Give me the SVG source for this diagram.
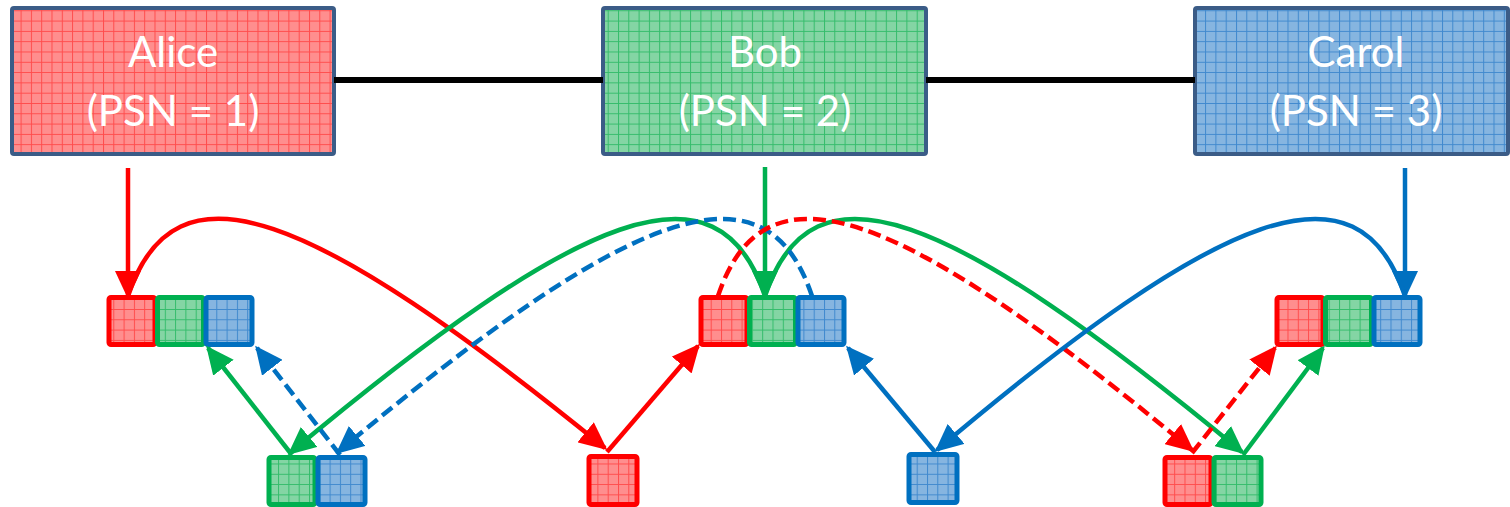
<svg xmlns="http://www.w3.org/2000/svg" width="1510" height="507" viewBox="0 0 1510 507">
<style>
.big{stroke:#3B5C87;stroke-width:4}
.lbl{font-family:Lato,"Liberation Sans",sans-serif;font-size:42px;fill:#FFFFFF;text-anchor:middle}
.sq{stroke-width:5}
.c{fill:none;stroke-width:4.5}
.r{stroke:#FF0000}
.g{stroke:#00B050}
.b{stroke:#0070C0}
.d{stroke-dasharray:13 6}
.k{stroke:#000000;stroke-width:6}
</style>
<defs>
<pattern id="pR" width="10.3" height="10.3" patternUnits="userSpaceOnUse"><rect width="10.3" height="10.3" fill="#FF8E8E"/><path d="M0,0.5H10.3M0.5,0V10.3" stroke="#FF4C4C" stroke-width="1"/></pattern>
<pattern id="pG" width="10.3" height="10.3" patternUnits="userSpaceOnUse"><rect width="10.3" height="10.3" fill="#84D5A4"/><path d="M0,0.5H10.3M0.5,0V10.3" stroke="#34BC6B" stroke-width="1"/></pattern>
<pattern id="pB" width="10.3" height="10.3" patternUnits="userSpaceOnUse"><rect width="10.3" height="10.3" fill="#86B5E0"/><path d="M0,0.5H10.3M0.5,0V10.3" stroke="#4089CE" stroke-width="1"/></pattern>
<marker id="aR" markerUnits="userSpaceOnUse" markerWidth="28" markerHeight="26" refX="25" refY="13" orient="auto"><path d="M0,0L28,13L0,26z" fill="#FF0000"/></marker>
<marker id="aG" markerUnits="userSpaceOnUse" markerWidth="28" markerHeight="26" refX="25" refY="13" orient="auto"><path d="M0,0L28,13L0,26z" fill="#00B050"/></marker>
<marker id="aB" markerUnits="userSpaceOnUse" markerWidth="28" markerHeight="26" refX="25" refY="13" orient="auto"><path d="M0,0L28,13L0,26z" fill="#0070C0"/></marker>
</defs>

<g id="alice">
<rect class="big" x="12" y="8" width="322" height="146" rx="2" fill="url(#pR)"/>
<text class="lbl" x="173" y="67">Alice</text>
<text class="lbl" x="173" y="126">(PSN = 1)</text>
</g>
<g id="bob">
<rect class="big" x="603" y="8" width="323" height="146" rx="2" fill="url(#pG)"/>
<text class="lbl" x="765" y="67">Bob</text>
<text class="lbl" x="765" y="126">(PSN = 2)</text>
</g>
<g id="carol">
<rect class="big" x="1195" y="8" width="313" height="146" rx="2" fill="url(#pB)"/>
<text class="lbl" x="1356" y="67">Carol</text>
<text class="lbl" x="1356" y="126">(PSN = 3)</text>
</g>

<g id="alice-queue">
<rect class="sq r" x="109" y="297.5" width="46" height="47" rx="2" fill="url(#pR)"/>
<rect class="sq g" x="157.5" y="297.5" width="46" height="47" rx="2" fill="url(#pG)"/>
<rect class="sq b" x="206" y="297.5" width="46" height="47" rx="2" fill="url(#pB)"/>
</g>
<g id="bob-queue">
<rect class="sq r" x="701" y="297.5" width="46" height="47" rx="2" fill="url(#pR)"/>
<rect class="sq g" x="749.5" y="297.5" width="46" height="47" rx="2" fill="url(#pG)"/>
<rect class="sq b" x="798" y="297.5" width="46" height="47" rx="2" fill="url(#pB)"/>
</g>
<g id="carol-queue">
<rect class="sq r" x="1277" y="297.5" width="46" height="47" rx="2" fill="url(#pR)"/>
<rect class="sq g" x="1325.5" y="297.5" width="46" height="47" rx="2" fill="url(#pG)"/>
<rect class="sq b" x="1374" y="297.5" width="46" height="47" rx="2" fill="url(#pB)"/>
</g>
<g id="pkt-gb">
<rect class="sq g" x="269" y="457.5" width="46" height="47" rx="2" fill="url(#pG)"/>
<rect class="sq b" x="318" y="457.5" width="47" height="47" rx="2" fill="url(#pB)"/>
</g>
<g id="pkt-r">
<rect class="sq r" x="589" y="456.5" width="48" height="48" rx="2" fill="url(#pR)"/>
</g>
<g id="pkt-b">
<rect class="sq b" x="909" y="454.5" width="48" height="48" rx="2" fill="url(#pB)"/>
</g>
<g id="pkt-rg">
<rect class="sq r" x="1165" y="457.5" width="46" height="47" rx="2" fill="url(#pR)"/>
<rect class="sq g" x="1214" y="457.5" width="47" height="47" rx="2" fill="url(#pG)"/>
</g>

<g id="connectors">
<path class="k" d="M334,80H603M926,80H1195"/>
<path class="c r" d="M128,168V296" marker-end="url(#aR)"/>
<path class="c g" d="M765,167V296" marker-end="url(#aG)"/>
<path class="c b" d="M1405,168V296" marker-end="url(#aB)"/>

<path class="c r" d="M128,296C175,155 310,208 605,448" marker-end="url(#aR)"/>
<path class="c g" d="M765,296C718,155 583,208 290,453" marker-end="url(#aG)"/>
<path class="c g" d="M765,296C812,155 947,208 1242,452" marker-end="url(#aG)"/>
<path class="c b d" d="M812,296C765,155 630,208 338,452" marker-end="url(#aB)"/>
<path class="c r d" d="M718,296C765,155 900,208 1192,450" marker-end="url(#aR)"/>
<path class="c b" d="M1405,296C1358,155 1223,208 937,450" marker-end="url(#aB)"/>

<path class="c g" d="M292,455L208,348" marker-end="url(#aG)"/>
<path class="c b d" d="M340,455L257,348" marker-end="url(#aB)"/>
<path class="c r" d="M607,452L698,346" marker-end="url(#aR)"/>
<path class="c b" d="M935,452L848,348" marker-end="url(#aB)"/>
<path class="c r d" d="M1192,453L1275,348" marker-end="url(#aR)"/>
<path class="c g" d="M1243,455L1323,348" marker-end="url(#aG)"/>
</g>
</svg>
